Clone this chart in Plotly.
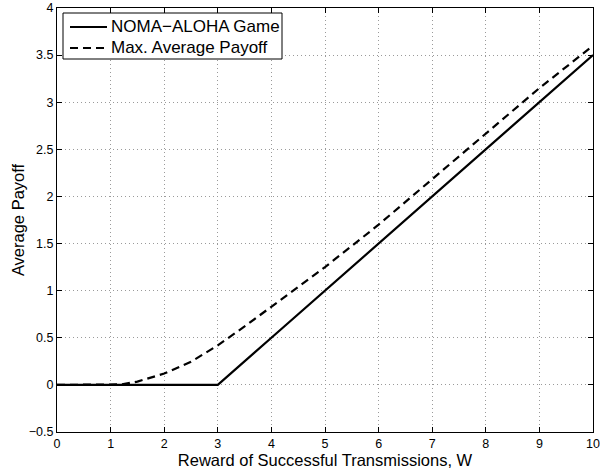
import plotly.graph_objects as go

# Data
w_game = [0, 1, 2, 3, 4, 5, 6, 7, 8, 9, 10]
payoff_game = [0, 0, 0, 0, 0.5, 1.0, 1.5, 2.0, 2.5, 3.0, 3.5]

w_max = [0, 0.5, 1.0, 1.2, 1.5, 2.0, 2.5, 3.0, 3.5, 4.0, 5.0, 6.0, 7.0, 8.0, 9.0, 10.0]
payoff_max = [0, 0, 0, 0.005, 0.035, 0.12, 0.245, 0.42, 0.62, 0.83, 1.25, 1.70, 2.18, 2.67, 3.15, 3.6]

x_ticks = list(range(0, 11))
y_ticks = [-0.5, 0, 0.5, 1, 1.5, 2, 2.5, 3, 3.5, 4]

series_names = ["NOMA\u2212ALOHA Game", "Max. Average Payoff"]
series_dash = ["solid", "8px,5px"]

font = "Liberation Sans, Arial, Helvetica, sans-serif"

W, H = 600, 473
ML, MR, MT, MB = 57, 7, 8, 41
PW, PH = W - ML - MR, H - MT - MB


def px2paper(px, py):
    return (px - ML) / PW, (H - MB - py) / PH


fig = go.Figure()
fig.add_trace(go.Scatter(x=w_game, y=payoff_game, mode="lines", name=series_names[0],
                         line=dict(color="black", width=2.2, dash=series_dash[0]),
                         showlegend=False))
fig.add_trace(go.Scatter(x=w_max, y=payoff_max, mode="lines", name=series_names[1],
                         line=dict(color="black", width=2.2, dash=series_dash[1]),
                         showlegend=False))

axis_common = dict(
    showline=True, linecolor="black", linewidth=1, mirror="ticks",
    ticks="inside", ticklen=5, tickcolor="black", tickwidth=1,
    showgrid=True, gridcolor="#9a9a9a", griddash="1px,3px", gridwidth=1,
    zeroline=False, tickfont=dict(family=font, size=12.5, color="black"),
    automargin=False,
)

fig.update_xaxes(range=[0, 10], tickvals=x_ticks,
                 title=dict(text="Reward of Successful Transmissions, W",
                            font=dict(family=font, size=16.5, color="black"), standoff=2),
                 **axis_common)
fig.update_yaxes(range=[-0.5, 4], tickvals=y_ticks,
                 title=dict(text="Average Payoff",
                            font=dict(family=font, size=16.5, color="black"), standoff=0),
                 **axis_common)

# Legend box (MATLAB style), drawn as shapes + text
shapes = []
annotations = []
x0, y0 = px2paper(63, 13)
x1, y1 = px2paper(282, 59)
shapes.append(dict(type="rect", xref="paper", yref="paper", x0=x0, y0=y1, x1=x1, y1=y0,
                   line=dict(color="black", width=1), fillcolor="white", layer="above"))
row_y = [27, 48]
for name, dash, ry in zip(series_names, series_dash, row_y):
    lx0, ly = px2paper(70, ry)
    lx1, _ = px2paper(107, ry)
    shapes.append(dict(type="line", xref="paper", yref="paper", x0=lx0, x1=lx1, y0=ly, y1=ly,
                       line=dict(color="black", width=2.2, dash=dash), layer="above"))
    tx, _ = px2paper(109, ry)
    annotations.append(dict(xref="paper", yref="paper", x=tx, y=ly, text=name,
                            showarrow=False, xanchor="left", yanchor="middle",
                            font=dict(family=font, size=17, color="black")))

fig.update_layout(
    width=W, height=H,
    margin=dict(l=ML, r=MR, t=MT, b=MB),
    paper_bgcolor="white", plot_bgcolor="white",
    font=dict(family=font, color="black"),
    shapes=shapes, annotations=annotations,
    showlegend=False,
)

fig.write_html("out.html", config={"displayModeBar": False},
               post_script="document.body.style.margin='0';document.body.style.overflow='hidden';")
